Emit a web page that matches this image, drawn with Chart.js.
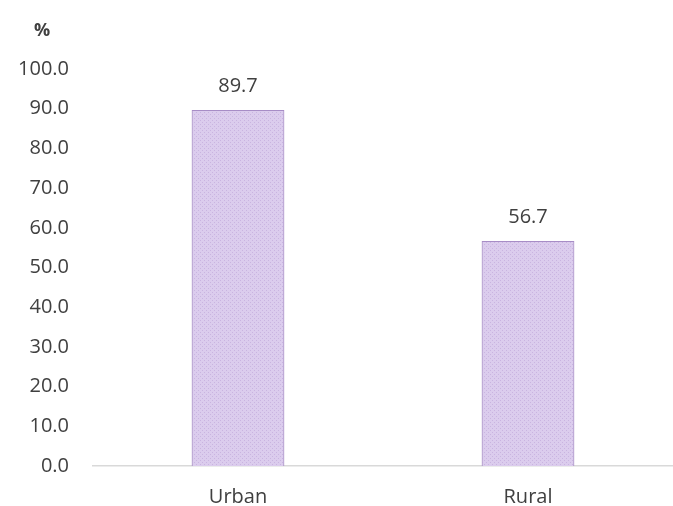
<!DOCTYPE html>
<html>
<head>
<meta charset="utf-8">
<script src="https://cdn.jsdelivr.net/npm/chart.js@4"></script>
<style>
  body { margin: 0; background: #fff; }
  #wrap { width: 673px; height: 506px; }
</style>
</head>
<body>
<div id="wrap"><canvas id="chart"></canvas></div>
<script>
// data
const categories = ['Urban', 'Rural'];
const shares = [89.7, 56.7];
const unitLabel = '%';

const FONT = "'Open Sans', 'Liberation Sans', sans-serif";
const TEXT = '#404040';

// little dotted fill like the original bars
function makePattern() {
    const c = document.createElement('canvas');
    c.width = 4; c.height = 4;
    const g = c.getContext('2d');
    g.fillStyle = '#dbcced';
    g.fillRect(0, 0, 4, 4);
    g.fillStyle = '#c9b4e0';
    g.fillRect(0, 0, 1, 1);
    g.fillRect(2, 2, 1, 1);
    return g.createPattern(c, 'repeat');
}

// value on top of each bar + the "%" unit at the top left
const labelPlugin = {
    id: 'labels',
    afterDatasetsDraw(chart) {
        const ctx = chart.ctx;
        ctx.save();
        ctx.font = '20px ' + FONT;
        ctx.fillStyle = TEXT;
        ctx.textAlign = 'center';
        ctx.textBaseline = 'middle';
        chart.getDatasetMeta(0).data.forEach(function (bar, i) {
            ctx.fillText(shares[i].toFixed(1), bar.x, bar.y - 24);
        });
        ctx.font = 'bold 18px ' + FONT;
        ctx.fillText(unitLabel, 42, 31);
        ctx.restore();
    }
};

new Chart(document.getElementById('chart'), {
    type: 'bar',
    data: {
        labels: categories,
        datasets: [{
            data: shares,
            backgroundColor: makePattern(),
            borderColor: '#a78dc6',
            borderWidth: 1.2,
            barPercentage: 0.32,
            categoryPercentage: 1
        }]
    },
    options: {
        responsive: true,
        maintainAspectRatio: false,
        animation: false,
        layout: { padding: { top: 69, right: 0, bottom: 0, left: 0 } },
        plugins: {
            legend: { display: false },
            tooltip: { enabled: false }
        },
        scales: {
            x: {
                afterFit(scale) { scale.height = 40; },
                grid: { display: false, drawTicks: false },
                border: { color: '#d9d9d9', width: 1.5 },
                ticks: { color: TEXT, font: { family: FONT, size: 20 }, padding: 19 }
            },
            y: {
                min: 0,
                max: 100,
                afterFit(scale) { scale.width = 93; },
                grid: { display: false, drawTicks: false },
                border: { display: false },
                ticks: {
                    stepSize: 10,
                    padding: 24,
                    color: TEXT,
                    font: { family: FONT, size: 20 },
                    callback: function (v) { return Number(v).toFixed(1); }
                }
            }
        }
    },
    plugins: [labelPlugin]
});
</script>
</body>
</html>
